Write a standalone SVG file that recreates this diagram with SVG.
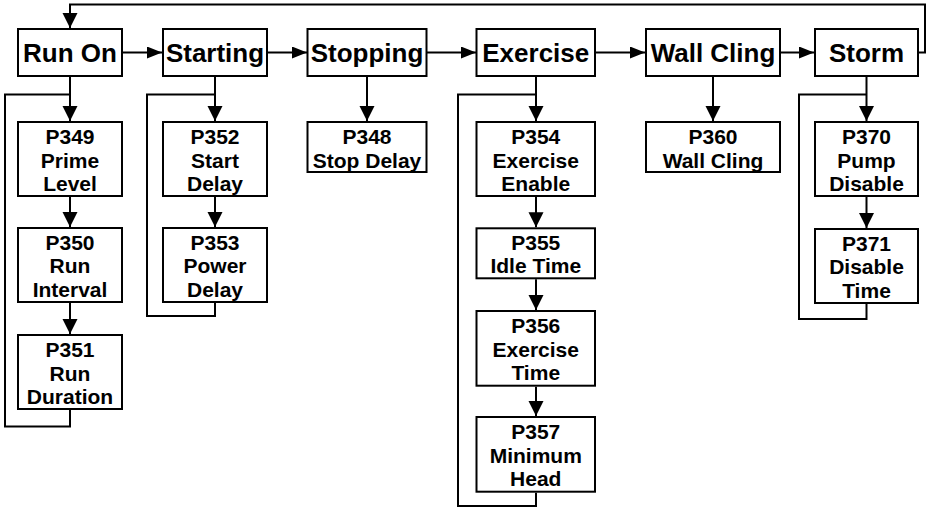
<svg xmlns="http://www.w3.org/2000/svg" width="928" height="508" viewBox="0 0 928 508">
<style>
  .box{fill:#fff;stroke:#000;stroke-width:2}
  .main{font-family:"Liberation Sans",Arial,sans-serif;font-weight:bold;font-size:26px;text-anchor:middle;fill:#000}
  .sub{font-family:"Liberation Sans",Arial,sans-serif;font-weight:bold;font-size:21px;text-anchor:middle;fill:#000}
  .ln{fill:none;stroke:#000;stroke-width:2}
</style>
<defs>
  <marker id="ah" markerUnits="userSpaceOnUse" markerWidth="16" markerHeight="12" refX="15" refY="6" orient="auto">
    <path d="M0,0 L15,6 L0,12 Z" fill="#000"/>
  </marker>
  <marker id="av" markerUnits="userSpaceOnUse" markerWidth="16" markerHeight="16" refX="15" refY="8" orient="auto">
    <path d="M0,0.5 L15,8 L0,15.5 Z" fill="#000"/>
  </marker>
</defs>
<rect width="928" height="508" fill="#fff"/>
<g id="connectors">
  <!-- top loop -->
  <path class="ln" d="M919,52.5 H925 V4.5 H70 V28" marker-end="url(#av)"/>
  <!-- horizontal chain -->
  <path class="ln" d="M123,52.5 H162" marker-end="url(#ah)"/>
  <path class="ln" d="M268,52.5 H307" marker-end="url(#ah)"/>
  <path class="ln" d="M427,52.5 H476" marker-end="url(#ah)"/>
  <path class="ln" d="M596,52.5 H645" marker-end="url(#ah)"/>
  <path class="ln" d="M780,52.5 H814" marker-end="url(#ah)"/>
  <!-- Run On column -->
  <path class="ln" d="M70,77 V121" marker-end="url(#av)"/>
  <path class="ln" d="M70,197 V227" marker-end="url(#av)"/>
  <path class="ln" d="M70,303 V334" marker-end="url(#av)"/>
  <path class="ln" d="M70,94.5 H5 V426.5 H70 V410"/>
  <!-- Starting column -->
  <path class="ln" d="M215,77 V121" marker-end="url(#av)"/>
  <path class="ln" d="M215,197 V227" marker-end="url(#av)"/>
  <path class="ln" d="M215,94.5 H147 V316 H215 V303"/>
  <!-- Stopping column -->
  <path class="ln" d="M367,77 V121" marker-end="url(#av)"/>
  <!-- Exercise column -->
  <path class="ln" d="M536,77 V121" marker-end="url(#av)"/>
  <path class="ln" d="M536,197 V227.3" marker-end="url(#av)"/>
  <path class="ln" d="M536,279.3 V310" marker-end="url(#av)"/>
  <path class="ln" d="M536,386.7 V416" marker-end="url(#av)"/>
  <path class="ln" d="M536,94.5 H458 V506 H536 V492.7"/>
  <!-- Wall Cling column -->
  <path class="ln" d="M713,77 V121" marker-end="url(#av)"/>
  <!-- Storm column -->
  <path class="ln" d="M866.5,77 V121" marker-end="url(#av)"/>
  <path class="ln" d="M866.5,197 V228" marker-end="url(#av)"/>
  <path class="ln" d="M866.5,94.5 H799 V319 H866.5 V304"/>
</g>
<g id="runon"><rect class="box" x="18" y="29" width="104" height="47"/><text class="main" x="70" y="61.7">Run On</text></g>
<g id="starting"><rect class="box" x="163" y="29" width="104" height="47"/><text class="main" x="215" y="61.7">Starting</text></g>
<g id="stopping"><rect class="box" x="307.5" y="29" width="119" height="47"/><text class="main" x="367" y="61.7">Stopping</text></g>
<g id="exercise"><rect class="box" x="476.5" y="29" width="118.5" height="47"/><text class="main" x="535.75" y="61.7">Exercise</text></g>
<g id="wallcling"><rect class="box" x="646" y="29" width="134" height="47"/><text class="main" x="713" y="61.7">Wall Cling</text></g>
<g id="storm"><rect class="box" x="815" y="29" width="103" height="47"/><text class="main" x="866.5" y="61.7">Storm</text></g>

<g id="p349"><rect class="box" x="18" y="122" width="104" height="74"/><text class="sub" x="70" y="144"><tspan x="70">P349</tspan><tspan x="70" dy="23.7">Prime</tspan><tspan x="70" dy="23.7">Level</tspan></text></g>
<g id="p350"><rect class="box" x="18" y="228" width="104" height="74"/><text class="sub" x="70" y="249.5"><tspan x="70">P350</tspan><tspan x="70" dy="23.7">Run</tspan><tspan x="70" dy="23.7">Interval</tspan></text></g>
<g id="p351"><rect class="box" x="18" y="335" width="104" height="74"/><text class="sub" x="70" y="357"><tspan x="70">P351</tspan><tspan x="70" dy="23.7">Run</tspan><tspan x="70" dy="23.7">Duration</tspan></text></g>
<g id="p352"><rect class="box" x="163" y="122" width="104" height="74"/><text class="sub" x="215" y="144"><tspan x="215">P352</tspan><tspan x="215" dy="23.7">Start</tspan><tspan x="215" dy="23.7">Delay</tspan></text></g>
<g id="p353"><rect class="box" x="163" y="228" width="104" height="74"/><text class="sub" x="215" y="249.5"><tspan x="215">P353</tspan><tspan x="215" dy="23.7">Power</tspan><tspan x="215" dy="23.7">Delay</tspan></text></g>
<g id="p348"><rect class="box" x="307.5" y="122" width="119" height="50"/><text class="sub" x="367" y="144"><tspan x="367">P348</tspan><tspan x="367" dy="23.7">Stop Delay</tspan></text></g>
<g id="p354"><rect class="box" x="476.5" y="122" width="118.5" height="74"/><text class="sub" x="535.75" y="144"><tspan x="535.75">P354</tspan><tspan x="535.75" dy="23.7">Exercise</tspan><tspan x="535.75" dy="23.7">Enable</tspan></text></g>
<g id="p355"><rect class="box" x="476.5" y="228.3" width="118.5" height="50"/><text class="sub" x="535.75" y="249.5"><tspan x="535.75">P355</tspan><tspan x="535.75" dy="23.7">Idle Time</tspan></text></g>
<g id="p356"><rect class="box" x="476.5" y="311" width="118.5" height="74.7"/><text class="sub" x="535.75" y="333"><tspan x="535.75">P356</tspan><tspan x="535.75" dy="23.7">Exercise</tspan><tspan x="535.75" dy="23.7">Time</tspan></text></g>
<g id="p357"><rect class="box" x="476.5" y="417" width="118.5" height="74.7"/><text class="sub" x="535.75" y="439"><tspan x="535.75">P357</tspan><tspan x="535.75" dy="23.7">Minimum</tspan><tspan x="535.75" dy="23.7">Head</tspan></text></g>
<g id="p360"><rect class="box" x="646" y="122" width="134" height="50"/><text class="sub" x="713" y="144"><tspan x="713">P360</tspan><tspan x="713" dy="23.7">Wall Cling</tspan></text></g>
<g id="p370"><rect class="box" x="815" y="122" width="103" height="74"/><text class="sub" x="866.5" y="144"><tspan x="866.5">P370</tspan><tspan x="866.5" dy="23.7">Pump</tspan><tspan x="866.5" dy="23.7">Disable</tspan></text></g>
<g id="p371"><rect class="box" x="815" y="229" width="103" height="74"/><text class="sub" x="866.5" y="250.5"><tspan x="866.5">P371</tspan><tspan x="866.5" dy="23.7">Disable</tspan><tspan x="866.5" dy="23.7">Time</tspan></text></g>
</svg>
